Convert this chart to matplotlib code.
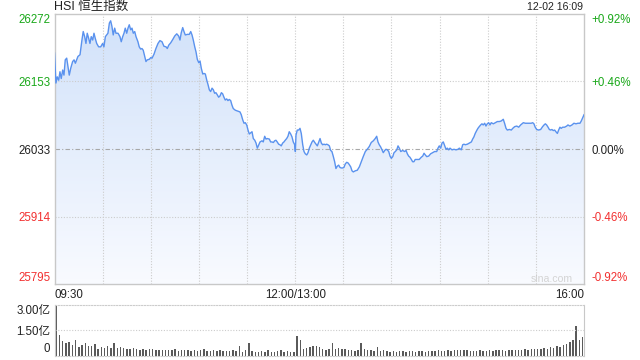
import numpy as np
import matplotlib
matplotlib.use("Agg")
import matplotlib.pyplot as plt

plt.rcParams["font.family"] = ["Liberation Sans", "Noto Sans CJK SC", "DejaVu Sans"]

# ---------------------------------------------------------------------------
# Data (minutes since 09:30, lunch break removed)
# ---------------------------------------------------------------------------
PREV_CLOSE = 26033
Y_LEVELS = [25795, 25914, 26033, 26153, 26272]
PCT_LABELS = ["-0.92%", "-0.46%", "0.00%", "+0.46%", "+0.92%"]
TIME_LABELS = ["09:30", "12:00/13:00", "16:00"]
TIME_TICKS = [0, 150, 330]

minutes = [
    0.0, 0.9, 1.7, 2.6, 3.4, 4.2, 5.1, 5.9, 6.7, 7.6, 8.4, 9.2, 10.1, 11.3, 12.2, 13.0,
    13.8, 14.6, 15.9, 17.1, 17.9, 18.8, 19.6, 20.4, 21.3, 22.1, 22.9, 23.8, 24.6, 25.4,
    26.3, 27.5, 28.8, 30.0, 30.8, 31.7, 32.5, 33.3, 34.2, 35.0, 35.8, 36.6, 37.5, 38.3,
    39.6, 40.8, 41.6, 42.5, 43.3, 44.1, 45.0, 45.8, 46.6, 47.5, 48.3, 49.1, 50.0, 50.8,
    52.0, 52.8, 53.7, 54.5, 55.3, 56.2, 57.0, 57.8, 59.1, 60.0, 60.8, 62.0, 63.2, 64.5,
    65.7, 67.0, 68.2, 69.5, 70.3, 71.2, 72.4, 73.7, 74.9, 76.2, 77.4, 78.2, 79.0, 79.9,
    80.7, 81.5, 82.8, 84.0, 84.9, 85.7, 86.5, 87.4, 88.2, 89.0, 89.9, 90.7, 91.5, 92.4,
    93.2, 94.0, 94.9, 95.7, 96.5, 97.3, 98.2, 99.0, 99.8, 100.6, 101.5, 102.3, 103.1,
    104.0, 104.8, 105.6, 106.4, 107.3, 108.1, 108.9, 109.8, 110.6, 111.4, 112.7, 115.6,
    116.4, 117.3, 118.1, 118.9, 119.8, 120.6, 121.4, 122.3, 123.1, 123.9, 124.8, 125.6,
    126.4, 127.3, 128.1, 129.3, 130.1, 131.0, 131.8, 132.6, 133.9, 134.7, 135.5, 136.4,
    137.2, 138.0, 138.8, 139.7, 140.5, 141.3, 142.2, 143.0, 143.8, 144.7, 145.5, 146.3,
    147.2, 148.0, 148.8, 149.7, 150.1, 150.5, 151.3, 152.2, 153.0, 153.8, 154.7, 155.5,
    156.3, 157.2, 158.0, 158.8, 159.7, 160.5, 161.3, 162.2, 163.0, 163.8, 164.6, 165.5,
    166.3, 167.1, 168.0, 168.8, 169.6, 170.4, 171.3, 172.1, 172.9, 173.7, 174.6, 175.4,
    176.2, 177.1, 177.9, 178.7, 179.6, 180.4, 181.2, 182.1, 182.9, 183.7, 184.6, 185.4,
    186.2, 187.5, 188.7, 190.0, 191.2, 192.4, 193.7, 194.9, 196.2, 197.4, 198.7, 199.9,
    200.8, 201.6, 202.4, 203.3, 204.1, 204.9, 205.8, 206.6, 207.4, 208.3, 209.1, 209.9,
    210.8, 211.6, 212.4, 213.3, 214.1, 214.9, 215.8, 217.0, 218.2, 219.1, 219.9, 220.7,
    221.5, 222.4, 223.2, 224.0, 224.8, 226.1, 227.3, 228.6, 229.5, 230.3, 231.1, 232.0,
    233.2, 234.4, 235.7, 236.9, 238.2, 239.0, 239.8, 240.7, 241.5, 242.3, 243.2, 244.0,
    244.8, 245.7, 246.5, 247.7, 249.0, 250.2, 251.5, 252.3, 253.5, 254.4, 255.2, 256.0,
    257.3, 258.5, 259.8, 260.6, 261.4, 262.2, 263.1, 263.9, 264.7, 265.6, 266.4, 267.2,
    268.1, 268.9, 269.7, 270.6, 271.4, 272.2, 273.5, 274.7, 276.0, 277.2, 278.4, 279.7,
    280.6, 281.4, 282.2, 283.5, 284.7, 285.6, 286.8, 288.1, 289.3, 290.5, 291.4, 292.2,
    293.4, 294.7, 295.9, 297.1, 298.0, 298.8, 299.6, 300.5, 301.7, 303.0, 304.2, 305.1,
    305.9, 306.7, 307.6, 308.4, 309.2, 310.0, 310.9, 311.7, 312.5, 313.4, 314.2, 315.0,
    315.8, 316.7, 317.9, 319.2, 320.0, 321.2, 322.5, 323.7, 325.0, 326.2, 327.5, 328.3,
    329.2, 330.0,
]

index_values = [
    26203, 26150, 26161, 26155, 26170, 26158, 26173, 26164, 26191, 26194, 26179, 26164,
    26176, 26188, 26191, 26185, 26191, 26197, 26200, 26226, 26241, 26232, 26220, 26238,
    26229, 26220, 26232, 26226, 26238, 26229, 26220, 26214, 26214, 26220, 26214, 26232,
    26235, 26238, 26256, 26260, 26250, 26235, 26247, 26238, 26238, 26232, 26223, 26232,
    26238, 26247, 26238, 26247, 26253, 26244, 26247, 26238, 26241, 26232, 26223, 26214,
    26210, 26211, 26208, 26197, 26188, 26191, 26192, 26195, 26194, 26201, 26211, 26220,
    26225, 26223, 26215, 26214, 26211, 26217, 26221, 26227, 26233, 26237, 26233, 26226,
    26239, 26248, 26241, 26235, 26236, 26236, 26241, 26235, 26226, 26214, 26205, 26192,
    26186, 26189, 26176, 26166, 26167, 26166, 26155, 26147, 26138, 26135, 26141, 26138,
    26132, 26133, 26129, 26125, 26127, 26133, 26131, 26125, 26120, 26122, 26119, 26121,
    26119, 26111, 26105, 26102, 26099, 26094, 26085, 26079, 26080, 26076, 26067, 26060,
    26062, 26064, 26052, 26049, 26044, 26035, 26041, 26046, 26048, 26046, 26056, 26051,
    26052, 26051, 26046, 26046, 26045, 26048, 26049, 26046, 26042, 26041, 26039, 26044,
    26046, 26049, 26052, 26056, 26064, 26060, 26055, 26046, 26041, 26029, 26058, 26067,
    26067, 26070, 26061, 26041, 26029, 26025, 26023, 26027, 26035, 26041, 26046, 26049,
    26045, 26042, 26039, 26045, 26052, 26044, 26041, 26042, 26041, 26042, 26041, 26039,
    26031, 26029, 26021, 26011, 25999, 26003, 26005, 26001, 26000, 26000, 26001, 26007,
    26010, 26009, 26006, 26002, 25995, 25993, 25995, 25996, 26002, 26011, 26020, 26029,
    26033, 26038, 26045, 26048, 26052, 26056, 26046, 26041, 26037, 26032, 26027, 26031,
    26033, 26032, 26029, 26021, 26017, 26020, 26027, 26029, 26032, 26039, 26035, 26029,
    26031, 26029, 26031, 26025, 26021, 26019, 26015, 26011, 26011, 26015, 26015, 26015,
    26019, 26021, 26026, 26023, 26020, 26021, 26025, 26027, 26029, 26029, 26035, 26039,
    26035, 26044, 26046, 26039, 26033, 26035, 26032, 26035, 26032, 26033, 26032, 26033,
    26035, 26032, 26041, 26042, 26041, 26042, 26044, 26046, 26051, 26055, 26061, 26066,
    26070, 26073, 26076, 26078, 26076, 26079, 26074, 26078, 26080, 26076, 26080, 26078,
    26080, 26082, 26082, 26083, 26086, 26078, 26070, 26067, 26068, 26067, 26070, 26073,
    26074, 26072, 26076, 26078, 26080, 26079, 26079, 26079, 26079, 26080, 26078, 26072,
    26068, 26067, 26068, 26073, 26076, 26078, 26076, 26072, 26068, 26067, 26068, 26066,
    26067, 26064, 26061, 26067, 26072, 26070, 26072, 26072, 26074, 26076, 26074, 26076,
    26079, 26078, 26079, 26079, 26083, 26089, 26094,
]

# volume in 亿, one bar every two minutes (morning 09:30-12:00, afternoon 13:00-16:00)
volume_am = [
    3.05, 1.22, 0.86, 0.76, 0.82, 0.62, 0.90, 0.50, 0.62, 0.76,
    0.56, 0.54, 0.66, 0.36, 0.50, 0.42, 0.56, 0.42, 0.76, 0.46,
    0.50, 0.46, 0.40, 0.36, 0.42, 0.36, 0.32, 0.38, 0.30, 0.36,
    0.40, 0.32, 0.34, 0.30, 0.34, 0.30, 0.32, 0.38, 0.28, 0.32,
    0.30, 0.34, 0.28, 0.30, 0.26, 0.30, 0.36, 0.26, 0.28, 0.30,
    0.24, 0.30, 0.26, 0.26, 0.26, 0.30, 0.24, 0.56, 0.22, 0.30,
    0.72, 0.28, 0.22, 0.20, 0.24, 0.22, 0.30, 0.22, 0.20, 0.24,
    0.30, 0.22, 0.26, 0.20, 0.22,
]
volume_pm = [
    1.15, 0.90, 0.36, 0.42, 0.52, 0.58, 0.58, 0.50, 0.40, 0.30,
    0.36, 0.72, 0.40, 0.46, 0.36, 0.40, 0.30, 0.34, 0.28, 0.30,
    0.72, 0.36, 0.30, 0.34, 0.28, 0.50, 0.26, 0.30, 0.24, 0.22,
    0.26, 0.22, 0.24, 0.26, 0.22, 0.24, 0.26, 0.22, 0.28, 0.24,
    0.22, 0.26, 0.24, 0.28, 0.30, 0.26, 0.28, 0.30, 0.26, 0.32,
    0.30, 0.34, 0.32, 0.30, 0.28, 0.26, 0.24, 0.30, 0.26, 0.28,
    0.32, 0.28, 0.30, 0.34, 0.30, 0.28, 0.32, 0.30, 0.34, 0.30,
    0.32, 0.36, 0.34, 0.38, 0.36, 0.40, 0.38, 0.44, 0.40, 0.48,
    0.46, 0.56, 0.50, 0.62, 0.70, 0.80, 0.90, 1.76, 0.90, 1.10,
]

# ---------------------------------------------------------------------------
W, H = 640, 360
fig = plt.figure(figsize=(W / 100, H / 100), dpi=100)
ax = fig.add_axes([54.5 / W, 1 - 284 / H, 529.5 / W, 270 / H])
axv = fig.add_axes([54.5 / W, 1 - 355.5 / H, 529.5 / W, 50.5 / H])

GREEN = "#1aa81a"
RED = "#f23030"
FRAME = "#c8c8c8"
LINE = "#5a92ee"
TEXT = "#222222"
FS = 8.3

x = np.array(minutes)
y = np.array(index_values)
ymin, ymax = Y_LEVELS[0], Y_LEVELS[-1]

ax.set_xlim(0, 330)
ax.set_ylim(ymin, ymax)

# gradient fill under the line
grad = np.linspace(0, 1, 256).reshape(-1, 1)
top_c = np.array([0.82, 0.885, 0.98])
bot_c = np.array([0.975, 0.982, 1.0])
img = top_c * (1 - grad[..., None]) + bot_c * grad[..., None]
im = ax.imshow(img, extent=[0, 330, ymin, ymax], aspect="auto", origin="upper", zorder=1)
poly = ax.fill_between(x, y, ymin, color="none", lw=0)
im.set_clip_path(poly.get_paths()[0], transform=ax.transData)

ax.plot(x, y, color=LINE, lw=1.0, zorder=3)

# grid
for v in Y_LEVELS[1:-1]:
    if v == PREV_CLOSE:
        ax.axhline(v, color="#a8a8a8", lw=0.8, ls=(0, (4, 2, 1, 2)), zorder=2)
    else:
        ax.axhline(v, color="#cccccc", lw=0.8, ls=(0, (1, 1.5)), zorder=2)
for t in range(30, 330, 30):
    ax.axvline(t, color="#cccccc", lw=0.8, ls=(0, (1, 1.5)), zorder=2)

for s in ax.spines.values():
    s.set_color(FRAME)
    s.set_linewidth(1.0)

# left ticks
colors = [RED, RED, TEXT, GREEN, GREEN]
ax.set_yticks(Y_LEVELS)
ax.set_yticklabels([str(v) for v in Y_LEVELS], fontsize=FS)
ax.tick_params(axis="y", length=0, pad=3)
for lab, c in zip(ax.get_yticklabels(), colors):
    lab.set_color(c)
ax.get_yticklabels()[0].set_va("bottom")
ax.get_yticklabels()[-1].set_va("top")

# right percentage ticks
axr = ax.twinx()
axr.set_ylim(ymin, ymax)
axr.set_yticks(Y_LEVELS)
axr.set_yticklabels(PCT_LABELS, fontsize=FS)
axr.tick_params(axis="y", length=0, pad=5.5)
for lab, c in zip(axr.get_yticklabels(), colors):
    lab.set_color(c)
axr.get_yticklabels()[0].set_va("bottom")
axr.get_yticklabels()[-1].set_va("top")
for s in axr.spines.values():
    s.set_visible(False)

# time ticks
ax.set_xticks(TIME_TICKS)
ax.set_xticklabels(TIME_LABELS, fontsize=FS, color=TEXT)
ax.tick_params(axis="x", length=0, pad=3.5)
ax.get_xticklabels()[0].set_ha("left")
ax.get_xticklabels()[-1].set_ha("right")

ax.text(0.0, 1 + 7.5 / 270, "HSI 恒生指数", transform=ax.transAxes, fontsize=9.0,
        ha="left", va="center", color=TEXT)
ax.text(0.998, 1 + 7.5 / 270, "12-02 16:09", transform=ax.transAxes, fontsize=7.6,
        ha="right", va="center", color=TEXT)
ax.text(0.979, 0.0, "sina.com", transform=ax.transAxes, fontsize=7.6,
        ha="right", va="bottom", color="#d4d4d4")

# volume panel
vol = volume_am + volume_pm
vx = np.arange(len(vol)) * 2.0 + 0.7
axv.bar(vx, vol, width=0.9, color="#5a5a5a", align="edge")
axv.set_xlim(0, 330)
axv.set_ylim(0, 3.0)
axv.set_yticks([0, 1.5, 3.0])
axv.set_yticklabels(["0", "1.50亿", "3.00亿"], fontsize=FS, color=TEXT)
axv.get_yticklabels()[0].set_va("bottom")
axv.get_yticklabels()[-1].set_va("top")
axv.tick_params(axis="y", length=0, pad=3)
axv.set_xticks([])
axv.axhline(1.5, color="#cccccc", lw=0.8, ls=(0, (1, 1.5)))
for side in ("top", "bottom"):
    axv.spines[side].set_color("#cccccc")
    axv.spines[side].set_linestyle((0, (1, 1.5)))
axv.spines["left"].set_color(FRAME)
axv.spines["right"].set_color(FRAME)

fig.savefig("out.png", dpi=100)
